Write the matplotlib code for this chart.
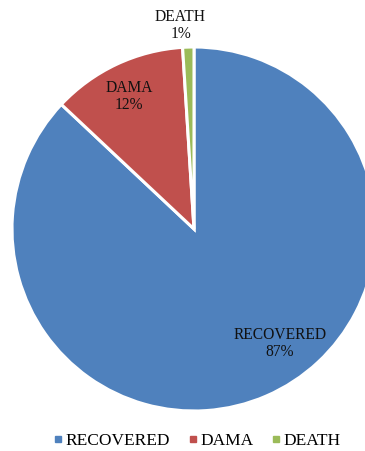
import matplotlib
matplotlib.use("Agg")
import matplotlib.pyplot as plt
from matplotlib.lines import Line2D
import numpy as np

categories = ["RECOVERED", "DAMA", "DEATH"]
values = [87, 12, 1]
colors = ["#4F81BD", "#C0504D", "#9BBB59"]
# label placement (angle offset from wedge mid in degrees, radius fraction)
label_pos = [(13.5, 0.785), (1.0, 0.81), (2.0, 1.12)]

W, H = 365, 451
fig = plt.figure(figsize=(W / 100, H / 100), dpi=100)
ax = fig.add_axes([0, 0, 1, 1])
ax.set_xlim(0, W)
ax.set_ylim(0, H)
ax.set_aspect("equal")
ax.axis("off")

cx, cy, R = 194, H - 229, 182
wedges, _ = ax.pie(values, colors=colors, startangle=90, counterclock=False,
                   center=(cx, cy), radius=R,
                   wedgeprops=dict(edgecolor="white", linewidth=2.2))
ax.set_xlim(0, W)
ax.set_ylim(0, H)

for w, cat, v, (da, rf) in zip(wedges, categories, values, label_pos):
    mid = (w.theta1 + w.theta2) / 2 + da
    x = cx + rf * R * np.cos(np.radians(mid))
    y = cy + rf * R * np.sin(np.radians(mid))
    ax.text(x, y, f"{cat}\n{v}%", ha="center", va="center", fontsize=11.2,
            family="Liberation Serif", color="#111111", linespacing=1.05)

handles = [Line2D([], [], marker="s", linestyle="none", markersize=4.5,
                  markerfacecolor=c, markeredgecolor=c) for c in colors]
fig.legend(handles, categories, loc="center", bbox_to_anchor=(0.538, 1 - 441 / H),
           ncol=3, frameon=False, prop={"family": "Liberation Serif", "size": 12.5},
           handletextpad=0.1, columnspacing=0.95, handlelength=0.7)

fig.savefig("out.png", dpi=100)
